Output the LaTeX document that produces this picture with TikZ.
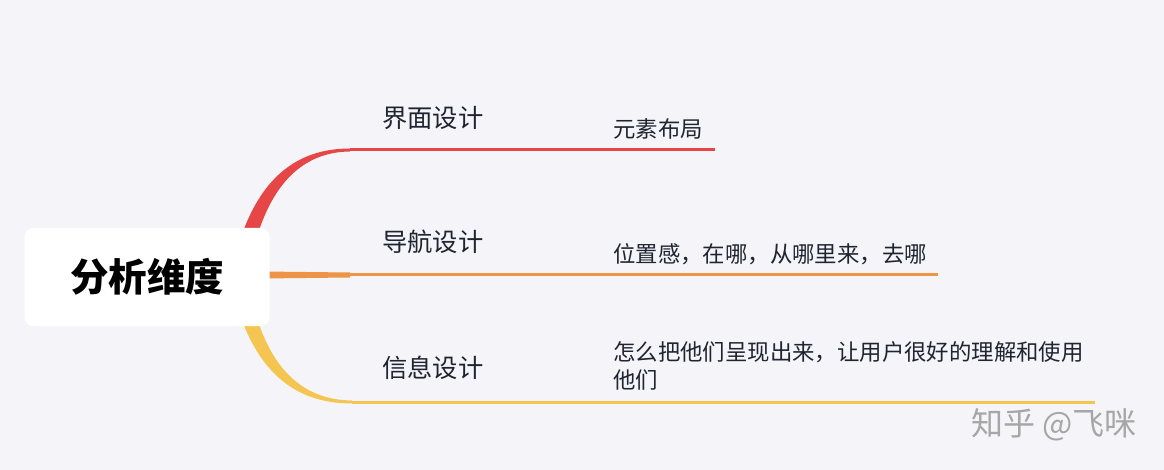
\documentclass[tikz,border=0pt]{standalone}
\usepackage{fontspec}
\newfontfamily\cjk{Noto Sans CJK SC}
\usepackage{tikz}
\usetikzlibrary{positioning}
\definecolor{bgcol}{HTML}{F5F5F9}
\definecolor{redbr}{HTML}{E64646}
\definecolor{orangebr}{HTML}{EE9446}
\definecolor{yellowbr}{HTML}{F5C552}
\definecolor{inkcol}{HTML}{1E2430}
\tikzset{
  rootbox/.style={fill=white, rounded corners=9pt, minimum width=245pt, minimum height=98pt,
    font=\cjk\bfseries\fontsize{38.5}{40}\selectfont, text=black},
  topic/.style={anchor=west, inner sep=0pt, font=\cjk\fontsize{25.3}{28}\selectfont, text=inkcol},
  leaf/.style={anchor=west, inner sep=0pt, align=left, font=\cjk\fontsize{22.4}{28}\selectfont, text=inkcol},
  twig/.style={line width=3pt},
}
\begin{document}
\begin{tikzpicture}[x=1pt,y=-1pt]
  \fill[bgcol] (0,0) rectangle (1164,470);
  \useasboundingbox (0,0) rectangle (1164,470);
  % branch ends
  \coordinate (r1) at (350,150);
  \coordinate (e1) at (715,150);
  \coordinate (r2) at (350,275);
  \coordinate (e2) at (938,275);
  \coordinate (r3) at (352,402);
  \coordinate (e3) at (1095,402);
  % tapered roots of the branches
  \fill[redbr] (240,240) .. controls (260,180) and (295,148.5) .. (350,148.5)
    -- (350,151.5) .. controls (302,152) and (272,185) .. (256,240) -- cycle;
  \fill[orangebr] (262,271.5) -- (350,272.5) -- (350,277.5) -- (262,278.5) -- cycle;
  \fill[yellowbr] (240,315) .. controls (260,372) and (295,403.5) .. (352,403.5)
    -- (352,400.5) .. controls (302,400) and (272,368) .. (256,315) -- cycle;
  \draw[twig, redbr]    (r1) -- (e1);
  \draw[twig, orangebr] (r2) -- (e2);
  \draw[twig, yellowbr] (r3) -- (e3);
  \node[rootbox] (root) at (147,277) {分析维度};
  \node[topic] (t1) at (382,118) {界面设计};
  \node[topic] (t2) at (382,242) {导航设计};
  \node[topic] (t3) at (382,368) {信息设计};
  \node[leaf] (l1) at (613,129) {元素布局};
  \node[leaf] (l2) at (613,254) {位置感，在哪，从哪里来，去哪};
  \node[leaf] (l3) at (613,366) {怎么把他们呈现出来，让用户很好的理解和使用\\他们};
  \node[anchor=east, inner sep=0pt, font=\cjk\fontsize{32}{34}\selectfont, text=black!35] (mark) at (1137,425) {知乎 @飞咪};
\end{tikzpicture}
\end{document}
